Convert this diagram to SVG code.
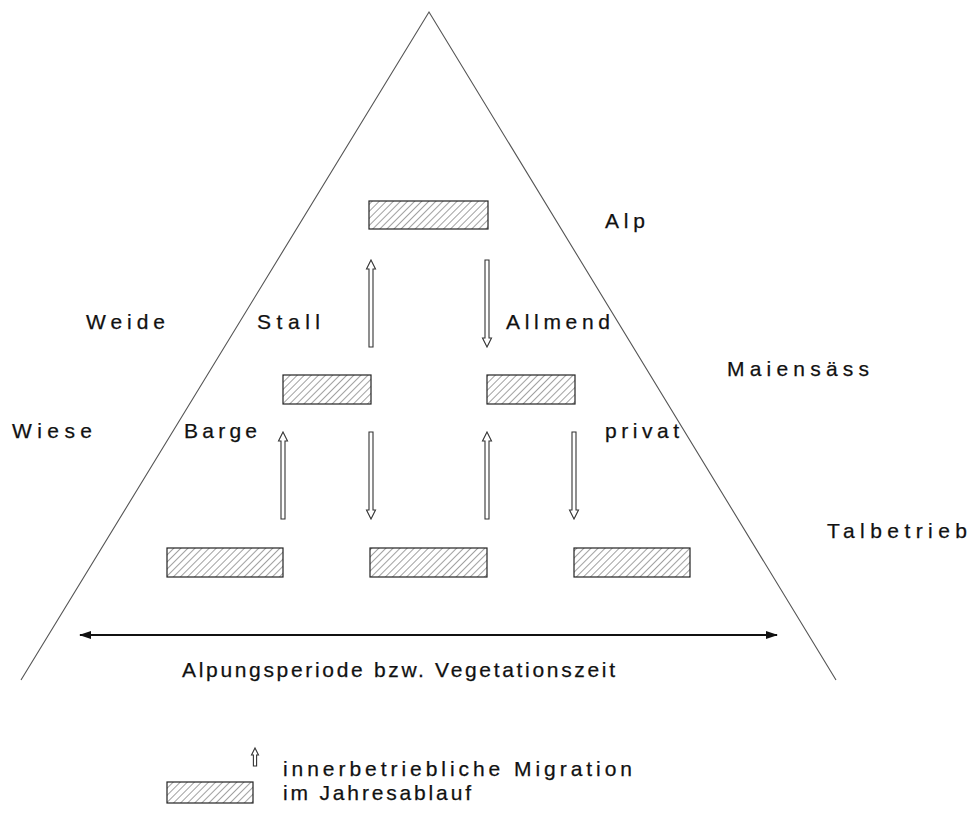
<svg xmlns="http://www.w3.org/2000/svg" width="968" height="814" viewBox="0 0 968 814">
<defs>
<style>
text{font-family:"Liberation Sans",Arial,sans-serif;font-size:21px;fill:#111;stroke:#111;stroke-width:0.25}
.hatch{fill:url(#h);stroke:#222;stroke-width:1.2}
.harrow{fill:#fff;stroke:#333;stroke-width:1.1}
.edge{fill:none;stroke:#555;stroke-width:1.1}
</style>
<pattern id="h" patternUnits="userSpaceOnUse" width="5" height="5" patternTransform="rotate(45)">
<rect width="5" height="5" fill="#fff"/>
<line x1="0" y1="0" x2="0" y2="5" stroke="#444" stroke-width="1"/>
</pattern>
<path id="ar" class="harrow" d="M0,0 L4.5,9 L2,9 L2,87 L-2,87 L-2,9 L-4.5,9 Z"/>
<path id="arS" class="harrow" d="M0,0 L3.5,7 L1.6,7 L1.6,18 L-1.6,18 L-1.6,7 L-3.5,7 Z"/>
<marker id="ah" viewBox="0 0 12 8" refX="11" refY="4" markerWidth="12" markerHeight="8" markerUnits="userSpaceOnUse" orient="auto-start-reverse">
<path d="M0,0 L12,4 L0,8 Z" fill="#111"/>
</marker>
</defs>
<rect width="968" height="814" fill="#fff"/>
<g id="triangle"><path class="edge" d="M21,680 L429,12 L836,680"/></g>
<g id="alp-node"><rect class="hatch" x="369" y="201" width="119" height="28"/></g>
<g id="mid-left"><rect class="hatch" x="283" y="375" width="88" height="29"/></g>
<g id="mid-right"><rect class="hatch" x="487" y="375" width="88" height="29"/></g>
<g id="bot-left"><rect class="hatch" x="167" y="548" width="116" height="29"/></g>
<g id="bot-mid"><rect class="hatch" x="370" y="548" width="117" height="29"/></g>
<g id="bot-right"><rect class="hatch" x="574" y="548" width="116" height="29"/></g>
<g id="connectors">
<use href="#ar" transform="translate(371,260)"/>
<use href="#ar" transform="translate(487,347) rotate(180)"/>
<use href="#ar" transform="translate(283,432)"/>
<use href="#ar" transform="translate(371,519) rotate(180)"/>
<use href="#ar" transform="translate(487,432)"/>
<use href="#ar" transform="translate(574,519) rotate(180)"/>
<line x1="80" y1="635" x2="777" y2="635" stroke="#111" stroke-width="2.2" marker-start="url(#ah)" marker-end="url(#ah)"/>
</g>
<g id="labels">
<text x="605" y="228" textLength="40" lengthAdjust="spacing">Alp</text>
<text x="86" y="329" textLength="79" lengthAdjust="spacing">Weide</text>
<text x="257" y="329" textLength="63" lengthAdjust="spacing">Stall</text>
<text x="506" y="329" textLength="104" lengthAdjust="spacing">Allmend</text>
<text x="727" y="376" textLength="142" lengthAdjust="spacing">Maiensäss</text>
<text x="12" y="438" textLength="80" lengthAdjust="spacing">Wiese</text>
<text x="184" y="438" textLength="73" lengthAdjust="spacing">Barge</text>
<text x="605" y="438" textLength="74" lengthAdjust="spacing">privat</text>
<text x="827" y="538" textLength="140" lengthAdjust="spacing">Talbetrieb</text>
<text x="182" y="677" textLength="433" lengthAdjust="spacing">Alpungsperiode bzw. Vegetationszeit</text>
</g>
<g id="legend">
<use href="#arS" transform="translate(255,748)"/>
<rect class="hatch" x="167" y="782" width="86" height="21"/>
<text x="283" y="776" textLength="349" lengthAdjust="spacing">innerbetriebliche Migration</text>
<text x="283" y="800" textLength="188" lengthAdjust="spacing">im Jahresablauf</text>
</g>
</svg>
